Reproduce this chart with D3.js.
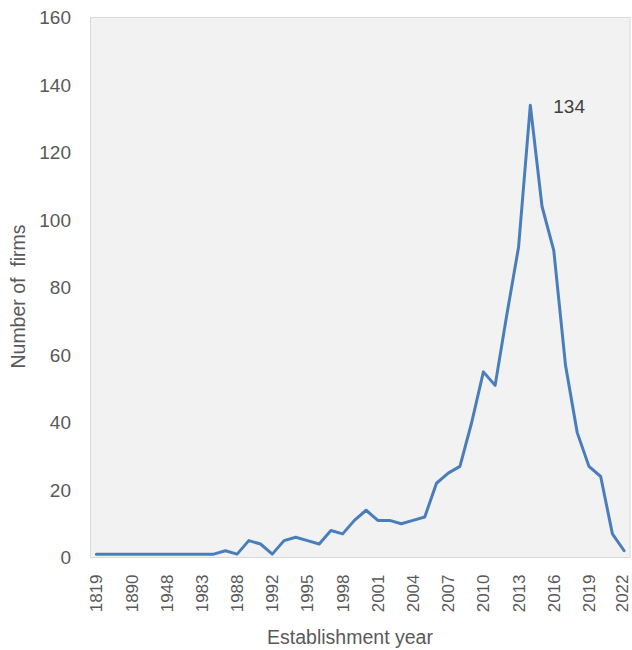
<!DOCTYPE html>
<html>
<head>
<meta charset="utf-8">
<script src="https://cdn.jsdelivr.net/npm/d3@7"></script>
<style>
  html, body { margin: 0; padding: 0; background: #ffffff; }
  svg { display: block; font-family: "Liberation Sans", Arial, sans-serif; }
</style>
</head>
<body>
<svg id="chart" width="632" height="650"></svg>
<script>
// ---- data ----
const years = ["1819","1850","1870","1890","1920","1935","1948","1960","1975","1983",
  "1985","1987","1988","1990","1991","1992","1993","1994","1995","1996","1997","1998",
  "1999","2000","2001","2002","2003","2004","2005","2006","2007","2008","2009","2010",
  "2011","2012","2013","2014","2015","2016","2017","2018","2019","2020","2021","2022"];
const firms = [1,1,1,1,1,1,1,1,1,1,
  1,2,1,5,4,1,5,6,5,4,8,7,
  11,14,11,11,10,11,12,22,25,27,40,55,
  51,72,92,134,104,91,57,37,27,24,7,2];
const tickLabels = ["1819","1890","1948","1983","1988","1992","1995","1998","2001",
  "2004","2007","2010","2013","2016","2019","2022"];
const yTicks = [0,20,40,60,80,100,120,140,160];
const peakLabel = "134";
const xTitle = "Establishment year";
const yTitle = "Number of\u00a0 firms";

// ---- layout ----
const W = 632;
const svg = d3.select("#chart");
const plot = { left: 90.5, right: 630, top: 17.5, bottom: 557.5 };

const x = d3.scaleBand().domain(years).range([plot.left, plot.right]);
const y = d3.scaleLinear().domain([0, 160]).range([plot.bottom, plot.top]);
const cx = d => x(d) + x.bandwidth() / 2;

// plot area
svg.append("rect")
  .attr("x", plot.left).attr("y", plot.top)
  .attr("width", plot.right - plot.left).attr("height", plot.bottom - plot.top)
  .attr("fill", "#f2f2f2").attr("stroke", "#d9d9d9").attr("stroke-width", 1);

// y axis labels
const yAxis = d3.axisLeft(y).tickValues(yTicks).tickSize(0).tickPadding(0);
const gy = svg.append("g").attr("transform", `translate(71,0)`).call(yAxis);
gy.select(".domain").remove();
gy.selectAll("text").attr("font-size", 19).attr("fill", "#595959")
  .attr("font-family", "Liberation Sans, Arial, sans-serif");

// x axis labels
const xFont = 17;
const xAxis = d3.axisBottom(x).tickValues(tickLabels).tickSize(0).tickPadding(0);
const gx = svg.append("g").attr("transform", `translate(0,${plot.bottom})`).call(xAxis);
gx.select(".domain").remove();
gx.selectAll("text")
  .attr("font-size", xFont).attr("fill", "#595959")
  .attr("font-family", "Liberation Sans, Arial, sans-serif")
  .attr("text-anchor", "end")
  .attr("transform", "rotate(-90)")
  .attr("x", -17).attr("y", 0)
  .attr("dy", d => {
    // keep the baseline + descent inside the page
    const base = cx(d) + 0.35 * xFont;
    const maxBase = W - 0.22 * xFont - 0.5;
    return (Math.min(base, maxBase) - cx(d)) + "px";
  });

// line
const line = d3.line().x((d, i) => cx(years[i])).y(d => y(d));
svg.append("path").datum(firms)
  .attr("d", line)
  .attr("fill", "none")
  .attr("stroke", "#4a7ebb")
  .attr("stroke-width", 3)
  .attr("stroke-linejoin", "round")
  .attr("stroke-linecap", "round");

// peak data label
const peakIdx = firms.indexOf(d3.max(firms));
svg.append("text")
  .attr("x", cx(years[peakIdx]) + 23)
  .attr("y", y(firms[peakIdx]) + 8)
  .attr("font-size", 19).attr("fill", "#404040")
  .text(peakLabel);

// axis titles
svg.append("text")
  .attr("x", 350).attr("y", 644)
  .attr("text-anchor", "middle")
  .attr("font-size", 19.5).attr("fill", "#595959")
  .text(xTitle);

svg.append("text")
  .attr("transform", `translate(25,${(plot.top + plot.bottom) / 2 + 9}) rotate(-90)`)
  .attr("text-anchor", "middle")
  .attr("font-size", 19.5).attr("fill", "#595959")
  .text(yTitle);
</script>
</body>
</html>
